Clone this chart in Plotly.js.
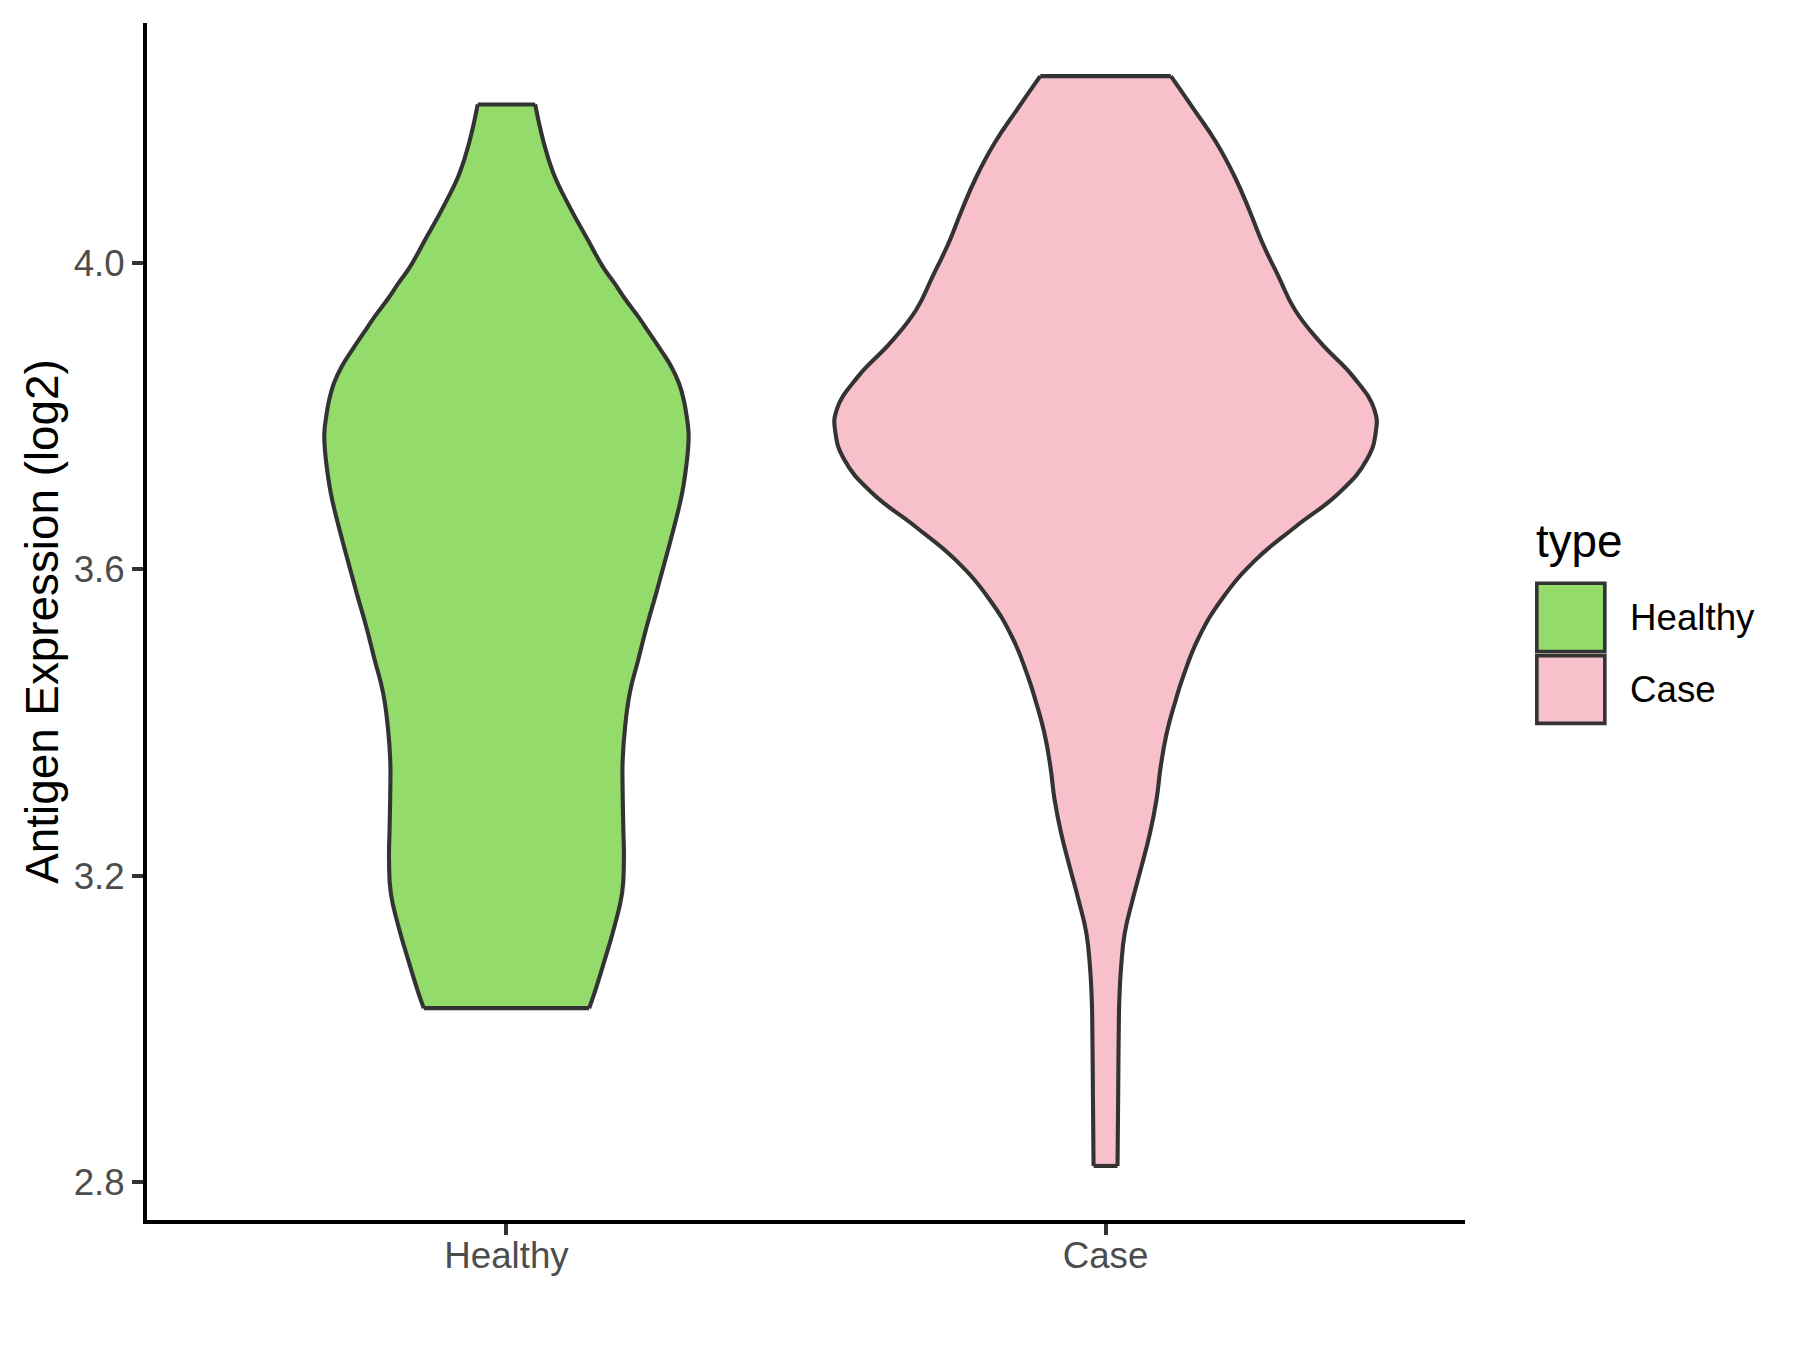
<!DOCTYPE html>
<html>
<head>
<meta charset="utf-8">
<script src="https://cdn.plot.ly/plotly-3.0.1.min.js"></script>
<style>html,body{margin:0;padding:0;background:#fff;}#chart{width:1800px;height:1350px;}</style>
</head>
<body>
<div id="chart"></div>
<script>
// ---- data ----
const categories = ['Healthy', 'Case'];
const yTickValues = [2.8, 3.2, 3.6, 4.0];
const yTickLabels = ['2.8', '3.2', '3.6', '4.0'];

// Healthy violin profile: expression level and half-width (category units)
const healthyY = [4.207, 4.161, 4.118, 4.074, 4.030, 3.995, 3.974, 3.952, 3.930, 3.908, 3.886, 3.865, 3.843, 3.821, 3.799, 3.778, 3.756, 3.734, 3.712, 3.691, 3.638, 3.612, 3.569, 3.525, 3.482, 3.439, 3.394, 3.351, 3.308, 3.264, 3.220, 3.177, 3.133, 3.090, 3.047, 3.027];
const healthyHalfWidth = [0.048, 0.061, 0.078, 0.105, 0.136, 0.161, 0.180, 0.199, 0.220, 0.239, 0.258, 0.275, 0.288, 0.296, 0.301, 0.304, 0.303, 0.300, 0.296, 0.291, 0.274, 0.265, 0.250, 0.234, 0.220, 0.206, 0.198, 0.194, 0.194, 0.195, 0.196, 0.193, 0.180, 0.164, 0.147, 0.138];

// Case violin profile
const caseY = [4.244, 4.200, 4.157, 4.112, 4.069, 4.026, 3.982, 3.939, 3.896, 3.851, 3.808, 3.779, 3.743, 3.700, 3.655, 3.612, 3.561, 3.510, 3.461, 3.429, 3.386, 3.342, 3.299, 3.255, 3.212, 3.168, 3.125, 3.081, 3.038, 2.995, 2.907, 2.821];
const caseHalfWidth = [0.109, 0.148, 0.185, 0.216, 0.240, 0.262, 0.289, 0.316, 0.359, 0.414, 0.449, 0.451, 0.436, 0.390, 0.316, 0.250, 0.194, 0.155, 0.130, 0.117, 0.102, 0.092, 0.085, 0.074, 0.060, 0.045, 0.032, 0.026, 0.023, 0.022, 0.021, 0.020];

// ---- styles ----
const FILLS = ['#93DB6A', '#F7C0CB'];
const OUTLINE = '#333333';
const OUTLINE_W = 4.1;
const FONT = '"Liberation Sans", Arial, Helvetica, sans-serif';

const profiles = [
  {y: healthyY, hw: healthyHalfWidth},
  {y: caseY, hw: caseHalfWidth}
];

const traces = [];
profiles.forEach((p, i) => {
  const pos = i + 1;
  const left = p.hw.map(w => pos - w);
  const right = p.hw.map(w => pos + w);
  const n = p.y.length;
  const smoothLine = (extra) => Object.assign({shape: 'spline', smoothing: 1.3, simplify: false}, extra);
  // fill between the two sides
  traces.push({type: 'scatter', mode: 'lines', x: left, y: p.y, line: smoothLine({width: 0}), hoverinfo: 'skip', showlegend: false});
  traces.push({type: 'scatter', mode: 'lines', x: right, y: p.y, fill: 'tonextx', fillcolor: FILLS[i], line: smoothLine({width: 0}), hoverinfo: 'skip', showlegend: false});
  // outlines
  traces.push({type: 'scatter', mode: 'lines', x: left, y: p.y, line: smoothLine({color: OUTLINE, width: OUTLINE_W}), hoverinfo: 'skip', showlegend: false});
  traces.push({type: 'scatter', mode: 'lines', x: right, y: p.y, line: smoothLine({color: OUTLINE, width: OUTLINE_W}), hoverinfo: 'skip', showlegend: false});
  traces.push({type: 'scatter', mode: 'lines',
    x: [left[0], right[0], null, left[n - 1], right[n - 1]],
    y: [p.y[0], p.y[0], null, p.y[n - 1], p.y[n - 1]],
    line: {color: OUTLINE, width: OUTLINE_W}, hoverinfo: 'skip', showlegend: false, connectgaps: false});
});

// legend (drawn manually in ggplot style)
const legendKeys = [
  {x0: 1.0545, x1: 1.1061, y0: 0.4748, y1: 0.5319},
  {x0: 1.0545, x1: 1.1061, y0: 0.4149, y1: 0.4714}
];
const shapes = legendKeys.map((k, i) => ({
  type: 'rect', xref: 'paper', yref: 'paper', x0: k.x0, x1: k.x1, y0: k.y0, y1: k.y1,
  fillcolor: FILLS[i], line: {color: OUTLINE, width: 3.6}, layer: 'above'
}));
const annotations = [
  {text: 'type', xref: 'paper', yref: 'paper', x: 1.0525, y: 0.567, xanchor: 'left', yanchor: 'middle', showarrow: false, font: {family: FONT, size: 45.8, color: '#000000'}},
  {text: categories[0], xref: 'paper', yref: 'paper', x: 1.1237, y: 0.5033, xanchor: 'left', yanchor: 'middle', showarrow: false, font: {family: FONT, size: 36.7, color: '#000000'}},
  {text: categories[1], xref: 'paper', yref: 'paper', x: 1.1237, y: 0.4431, xanchor: 'left', yanchor: 'middle', showarrow: false, font: {family: FONT, size: 36.7, color: '#000000'}}
];

const axisCommon = {
  showgrid: false, zeroline: false, showline: true, linecolor: '#000000', linewidth: 4,
  ticks: 'outside', ticklen: 11, tickwidth: 4, tickcolor: OUTLINE,
  tickfont: {family: FONT, size: 36.7, color: '#4D4D4D'}, fixedrange: true
};

const layout = {
  width: 1800, height: 1350,
  margin: {l: 147, r: 335, t: 23, b: 130, pad: 0},
  paper_bgcolor: '#ffffff', plot_bgcolor: '#ffffff',
  showlegend: false,
  font: {family: FONT},
  xaxis: Object.assign({}, axisCommon, {
    range: [0.4, 2.6], tickmode: 'array', tickvals: [1, 2], ticktext: categories,
    ticklabelstandoff: -11
  }),
  yaxis: Object.assign({}, axisCommon, {
    range: [2.7504, 4.3134], tickmode: 'array', tickvals: yTickValues, ticktext: yTickLabels,
    title: {text: 'Antigen Expression (log2)', font: {family: FONT, size: 45.8, color: '#000000'}, standoff: 2}
  }),
  shapes: shapes,
  annotations: annotations
};

Plotly.newPlot('chart', traces, layout, {displayModeBar: false, staticPlot: true});
</script>
</body>
</html>
